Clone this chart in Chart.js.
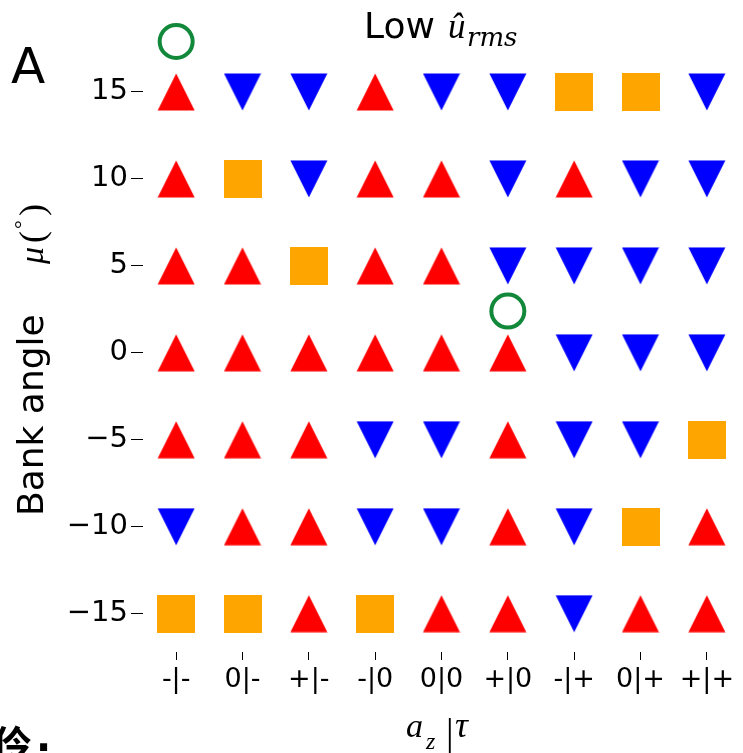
<!DOCTYPE html>
<html>
<head>
<meta charset="utf-8">
<script src="https://cdn.jsdelivr.net/npm/chart.js@4/dist/chart.umd.min.js"></script>
<style>
  html, body { margin: 0; padding: 0; background: #fff; }
  #wrap { width: 743px; height: 753px; position: relative; }
</style>
</head>
<body>
<div id="wrap"><canvas id="c" width="743" height="753"></canvas></div>
<script>
// Combinations of a_z | tau along the horizontal axis
const categories = ['-|-', '0|-', '+|-', '-|0', '0|0', '+|0', '-|+', '0|+', '+|+'];

// Bank angle levels (degrees), one row of outcomes per level
const bankAngles = [15, 10, 5, 0, -5, -10, -15];

// Outcome per cell: U = increase (red up), D = decrease (blue down), S = no change (orange square)
const row15  = ['U', 'D', 'D', 'U', 'D', 'D', 'S', 'S', 'D'];
const row10  = ['U', 'S', 'D', 'U', 'U', 'D', 'U', 'D', 'D'];
const row5   = ['U', 'U', 'S', 'U', 'U', 'D', 'D', 'D', 'D'];
const row0   = ['U', 'U', 'U', 'U', 'U', 'U', 'D', 'D', 'D'];
const rowM5  = ['U', 'U', 'U', 'D', 'D', 'U', 'D', 'D', 'S'];
const rowM10 = ['D', 'U', 'U', 'D', 'D', 'U', 'D', 'S', 'U'];
const rowM15 = ['S', 'S', 'U', 'S', 'U', 'U', 'D', 'U', 'U'];
const outcomeRows = [row15, row10, row5, row0, rowM5, rowM10, rowM15];

// Highlighted cases (open green circles)
const highlightX = ['-|-', '+|0'];
const highlightY = [17.9, 2.4];

// Marker sprites
function sprite(kind, color) {
  const s = 38;
  const cv = document.createElement('canvas');
  cv.width = s; cv.height = s;
  const g = cv.getContext('2d');
  g.fillStyle = color;
  g.beginPath();
  if (kind === 'up') {
    g.moveTo(s / 2, 0.5); g.lineTo(s - 0.5, s - 0.5); g.lineTo(0.5, s - 0.5);
  } else if (kind === 'down') {
    g.moveTo(0.5, 0.5); g.lineTo(s - 0.5, 0.5); g.lineTo(s / 2, s - 0.5);
  } else {
    g.rect(0, 0, s, s);
  }
  g.closePath();
  g.fill();
  return cv;
}
const upImg = sprite('up', '#ff0000');
const downImg = sprite('down', '#0000ff');
const sqImg = sprite('square', '#ffa500');

function pointsFor(code) {
  const pts = [];
  outcomeRows.forEach((row, i) => {
    row.forEach((v, j) => {
      if (v === code) pts.push({ x: categories[j], y: bankAngles[i] });
    });
  });
  return pts;
}

const circlePts = highlightX.map((x, i) => ({ x: x, y: highlightY[i] }));

const SANS = '"DejaVu Sans", sans-serif';
const SERIF = '"Liberation Serif", "DejaVu Serif", serif';
const DSERIF = '"DejaVu Serif", serif';

// Title, axis labels and panel letter
const textPlugin = {
  id: 'texts',
  afterDraw(chart) {
    const ctx = chart.ctx;
    ctx.save();
    ctx.fillStyle = '#000';
    ctx.textBaseline = 'alphabetic';
    ctx.textAlign = 'left';

    // panel letter
    ctx.font = '50px ' + SANS;
    ctx.fillText('A', 11, 83);

    // title
    ctx.font = '36px ' + SANS;
    ctx.fillText('Low', 364, 38);
    ctx.font = 'italic 35px ' + SERIF;
    ctx.fillText('\u00fb', 448, 38);
    ctx.font = 'italic 26px ' + DSERIF;
    ctx.fillText('rms', 467, 46);

    // x axis title
    ctx.font = 'italic 34px ' + SERIF;
    ctx.fillText('a', 406, 737);
    ctx.font = 'italic 24px ' + SERIF;
    ctx.fillText('z', 426, 749);
    ctx.font = '38px ' + SERIF;
    ctx.fillText('|', 446, 745);
    ctx.font = 'italic 36px ' + SERIF;
    ctx.fillText('\u03c4', 455, 737);

    // y axis title (rotated)
    ctx.save();
    ctx.translate(43, 516);
    ctx.rotate(-Math.PI / 2);
    ctx.font = '36px ' + SANS;
    ctx.fillText('Bank angle', 0, 0);
    ctx.font = 'italic 34px ' + SERIF;
    ctx.fillText('\u03bc', 252, 0);
    ctx.font = '36px ' + SERIF;
    ctx.fillText('(', 273, 1);
    ctx.font = '22px ' + SERIF;
    ctx.fillText('\u00b0', 287, -14);
    ctx.font = '36px ' + SERIF;
    ctx.fillText(')', 300, 1);
    ctx.restore();

    // fragment of neighbouring caption
    ctx.font = 'bold 40px "Noto Sans CJK SC", sans-serif';
    ctx.fillText('\u4f36', -8, 760);
    ctx.font = 'bold 40px ' + SANS;
    ctx.fillText('.', 36, 751);

    ctx.restore();
  }
};

new Chart(document.getElementById('c'), {
  type: 'scatter',
  data: {
    datasets: [
      { data: pointsFor('U'), pointStyle: upImg, pointRadius: 19, pointHoverRadius: 19 },
      { data: pointsFor('D'), pointStyle: downImg, pointRadius: 19, pointHoverRadius: 19 },
      { data: pointsFor('S'), pointStyle: sqImg, pointRadius: 19, pointHoverRadius: 19 },
      {
        data: circlePts, pointStyle: 'circle', pointRadius: 16.5, pointHoverRadius: 16.5,
        backgroundColor: 'rgba(0,0,0,0)', borderColor: '#12893a', pointBorderWidth: 4, borderWidth: 4
      }
    ]
  },
  options: {
    responsive: false,
    devicePixelRatio: 1,
    animation: false,
    events: [],
    layout: { autoPadding: false, padding: { top: 5, right: 3, left: 0, bottom: 0 } },
    plugins: { legend: { display: false }, tooltip: { enabled: false }, title: { display: false } },
    scales: {
      x: {
        type: 'category',
        labels: categories,
        offset: true,
        border: { display: false },
        grid: { drawOnChartArea: false, drawTicks: true, tickLength: 8, tickColor: '#000', tickWidth: 1 },
        ticks: { color: '#000', font: { family: SANS, size: 27 }, padding: 4, maxRotation: 0, autoSkip: false },
        afterFit(scale) {
          scale.height = 101;
          scale.paddingLeft = 0; scale.paddingRight = 0;
          scale.paddingTop = 0; scale.paddingBottom = 0;
        }
      },
      y: {
        type: 'linear',
        min: -17.2,
        max: 20,
        border: { display: false },
        grid: { drawOnChartArea: false, drawTicks: true, tickLength: 12, tickColor: '#000', tickWidth: 1 },
        afterBuildTicks(scale) { scale.ticks = bankAngles.map(v => ({ value: v })); },
        ticks: {
          color: '#000',
          font: { family: SANS, size: 29 },
          padding: 3,
          callback: v => String(v).replace('-', '\u2212')
        },
        afterFit(scale) {
          scale.width = 143;
          scale.paddingLeft = 0; scale.paddingRight = 0;
          scale.paddingTop = 0; scale.paddingBottom = 0;
        }
      }
    }
  },
  plugins: [textPlugin]
});
</script>
</body>
</html>
